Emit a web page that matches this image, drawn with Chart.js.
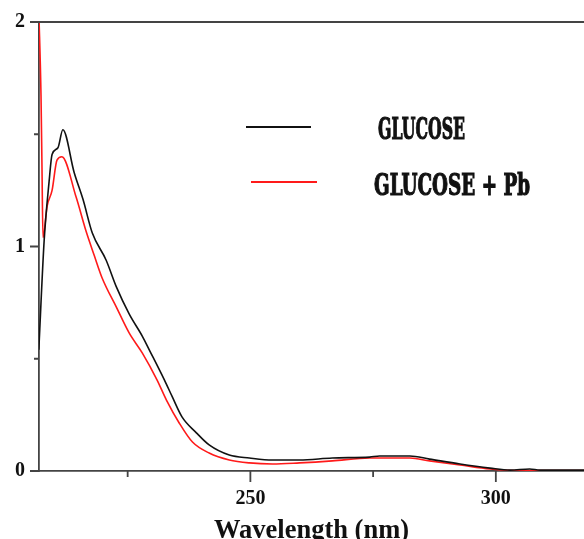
<!DOCTYPE html>
<html>
<head>
<meta charset="utf-8">
<script src="https://cdn.jsdelivr.net/npm/chart.js@4/dist/chart.umd.min.js"></script>
<style>
  html, body { margin: 0; padding: 0; overflow: hidden; background: #fff; }
  #wrap { width: 584px; height: 547px; }
</style>
</head>
<body>
<div id="wrap"><canvas id="spectrum"></canvas></div>
<script>
const wavelengthGlucose = [206.9, 208.0, 209.0, 209.6, 210.8, 211.8, 214.1, 215.9, 217.8, 220.6, 222.7, 225.3, 228.0, 229.4, 232.5, 234.1, 236.1, 239.0, 241.6, 245.7, 249.8, 254.5, 260.0, 266.7, 274.3, 276.3, 282.5, 286.5, 292.7, 298.8, 302.9, 306.9, 309.0, 318.0];
const absGlucose = [0.54, 1.03, 1.29, 1.41, 1.44, 1.52, 1.33, 1.21, 1.06, 0.94, 0.82, 0.70, 0.60, 0.54, 0.405, 0.33, 0.24, 0.17, 0.116, 0.071, 0.058, 0.049, 0.049, 0.058, 0.062, 0.067, 0.067, 0.053, 0.031, 0.013, 0.004, 0.009, 0.004, 0.004];

const wavelengthGlucosePb = [206.9, 207.35, 207.55, 207.75, 208.6, 209.6, 210.6, 211.6, 214.5, 216.5, 218.2, 219.8, 222.7, 225.3, 228.0, 231.0, 232.9, 235.5, 238.2, 241.6, 245.7, 249.8, 254.5, 260.0, 266.7, 274.3, 282.5, 286.5, 292.7, 298.8, 304.9, 318.0];
const absGlucosePb = [2.05, 1.67, 1.35, 1.04, 1.18, 1.25, 1.385, 1.40, 1.22, 1.07, 0.96, 0.86, 0.73, 0.615, 0.525, 0.405, 0.316, 0.214, 0.129, 0.080, 0.049, 0.036, 0.031, 0.036, 0.045, 0.058, 0.058, 0.045, 0.027, 0.009, 0.002, 0.002];

const seriesLabels = ['GLUCOSE', 'GLUCOSE + Pb'];
const xTicks = [225, 250, 275, 300];
const yTicks = [0, 0.5, 1, 1.5, 2];

const axisColor = '#444';
const toPoints = (xs, ys) => xs.map((x, i) => ({ x: x, y: ys[i] }));

// marcas de los ejes (largas en los valores con etiqueta) + linea superior
const frameTicks = {
    id: 'frameTicks',
    afterDraw(chart) {
        const { ctx, chartArea, scales } = chart;
        ctx.save();
        ctx.strokeStyle = axisColor;
        ctx.lineWidth = 1.8;
        ctx.beginPath();
        ctx.moveTo(chartArea.left, chartArea.top);
        ctx.lineTo(chartArea.right, chartArea.top);
        scales.x.ticks.forEach(t => {
            const px = scales.x.getPixelForValue(t.value);
            const len = t.value % 50 === 0 ? 11 : 6;
            ctx.moveTo(px, chartArea.bottom);
            ctx.lineTo(px, chartArea.bottom + len);
        });
        scales.y.ticks.forEach(t => {
            const py = scales.y.getPixelForValue(t.value);
            const len = Number.isInteger(t.value) ? 9 : 5;
            ctx.moveTo(chartArea.left, py);
            ctx.lineTo(chartArea.left - len, py);
        });
        ctx.stroke();
        ctx.restore();
    }
};

// leyenda dentro del grafico, letra condensada
const insideLegend = {
    id: 'insideLegend',
    afterDraw(chart) {
        const ctx = chart.ctx;
        const rows = [
            { x1: 246, x2: 311, ly: 127, tx: 378, tw: 87, by: 139 },
            { x1: 251, x2: 317, ly: 182, tx: 374, tw: 156, by: 195 }
        ];
        ctx.save();
        chart.data.datasets.forEach((ds, i) => {
            const r = rows[i];
            ctx.strokeStyle = ds.borderColor;
            ctx.lineWidth = 2;
            ctx.beginPath();
            ctx.moveTo(r.x1, r.ly);
            ctx.lineTo(r.x2, r.ly);
            ctx.stroke();

            ctx.font = 'bold 29px "DejaVu Serif"';
            ctx.fillStyle = '#111';
            ctx.strokeStyle = '#111';
            ctx.lineWidth = 1.2;
            ctx.textBaseline = 'alphabetic';
            const w = ctx.measureText(ds.label).width;
            ctx.save();
            ctx.translate(r.tx, r.by);
            ctx.scale(r.tw / w, 1);
            ctx.fillText(ds.label, 0, 0);
            ctx.strokeText(ds.label, 0, 0);
            ctx.restore();
        });
        ctx.restore();
    }
};

new Chart(document.getElementById('spectrum'), {
    type: 'line',
    data: {
        datasets: [
            {
                label: seriesLabels[0],
                data: toPoints(wavelengthGlucose, absGlucose),
                borderColor: '#111',
                borderWidth: 1.6,
                pointRadius: 0,
                cubicInterpolationMode: 'monotone'
            },
            {
                label: seriesLabels[1],
                data: toPoints(wavelengthGlucosePb, absGlucosePb),
                borderColor: '#ff1a1a',
                borderWidth: 1.6,
                pointRadius: 0,
                cubicInterpolationMode: 'monotone'
            }
        ]
    },
    options: {
        responsive: true,
        maintainAspectRatio: false,
        animation: false,
        layout: { padding: { top: 22, right: 0, bottom: 0, left: 0 } },
        scales: {
            x: {
                type: 'linear',
                min: 206.94,
                max: 317.96,
                afterBuildTicks: (scale) => { scale.ticks = xTicks.map(v => ({ value: v })); },
                afterFit: (scale) => { scale.height = 76; },
                grid: { display: false },
                border: { display: true, color: axisColor, width: 1.8 },
                ticks: {
                    autoSkip: false,
                    maxRotation: 0,
                    padding: 8,
                    color: '#111',
                    font: { family: '"Liberation Serif"', size: 20, weight: 'bold' },
                    callback: (v) => (v % 50 === 0 ? String(v) : '')
                },
                title: {
                    display: true,
                    text: 'Wavelength (nm)',
                    color: '#111',
                    padding: 0,
                    font: { family: '"Liberation Serif"', size: 26.5, weight: 'bold' }
                }
            },
            y: {
                min: 0,
                max: 2,
                afterBuildTicks: (scale) => { scale.ticks = yTicks.map(v => ({ value: v })); },
                afterFit: (scale) => { scale.width = 39; },
                grid: { display: false },
                border: { display: true, color: axisColor, width: 1.8 },
                ticks: {
                    autoSkip: false,
                    padding: 6,
                    color: '#111',
                    font: { family: '"Liberation Serif"', size: 20, weight: 'bold' },
                    callback: (v) => (Number.isInteger(v) ? String(v) : '')
                }
            }
        },
        plugins: {
            legend: { display: false },
            tooltip: { enabled: false }
        }
    },
    plugins: [frameTicks, insideLegend]
});
</script>
</body>
</html>
